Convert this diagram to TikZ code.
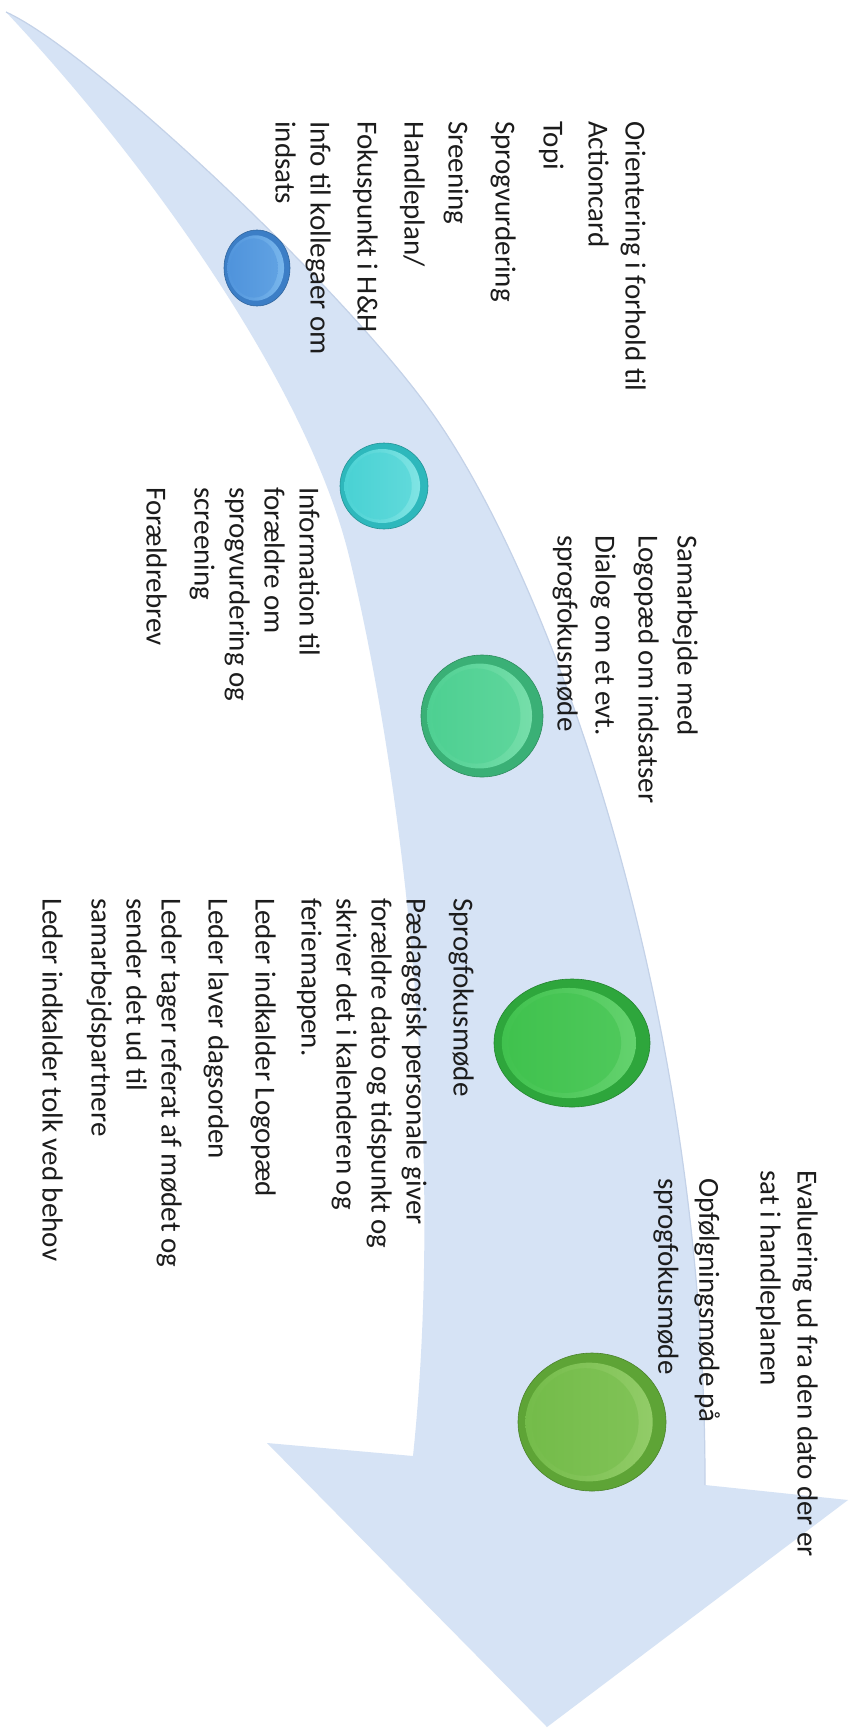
\documentclass[tikz,border=0pt]{standalone}
\usepackage{fontspec}
\setmainfont{Carlito}
\definecolor{arrowfill}{RGB}{214,227,245}
\definecolor{arrowedge}{RGB}{196,210,232}
\definecolor{txt}{RGB}{28,28,28}
\definecolor{bArim}{RGB}{60,126,198}\definecolor{bAin}{RGB}{80,148,220}\definecolor{bAhi}{RGB}{120,182,236}
\definecolor{bBrim}{RGB}{46,184,188}\definecolor{bBin}{RGB}{74,210,212}\definecolor{bBhi}{RGB}{128,228,228}
\definecolor{bCrim}{RGB}{58,176,118}\definecolor{bCin}{RGB}{78,208,146}\definecolor{bChi}{RGB}{118,222,170}
\definecolor{bDrim}{RGB}{46,166,60}\definecolor{bDin}{RGB}{64,194,78}\definecolor{bDhi}{RGB}{100,210,110}
\definecolor{bErim}{RGB}{94,164,54}\definecolor{bEin}{RGB}{116,188,74}\definecolor{bEhi}{RGB}{146,204,104}
\newcommand\mybutton[7]{%
  \fill[#5, draw=#5!80!black, line width=0.6pt] (#1,#2) ellipse ({#3pt} and {#4pt});
  \shade[left color=#6, right color=#7] ({#1-0.04*#3},#2) ellipse ({0.86*#3pt} and {0.86*#4pt});
  \shade[left color=#6, right color=#6!60!#7] ({#1-0.09*#3},#2) ellipse ({0.72*#3pt} and {0.78*#4pt});
}
\begin{document}
\begin{tikzpicture}[x=1pt,y=-1pt,
  lbl/.style={rotate=-90, anchor=north west, inner sep=0pt, align=left, text=txt,
    font=\fontsize{29}{35}\selectfont}]
\useasboundingbox (0,0) rectangle (857,1730);
\fill[white] (0,0) rectangle (857,1730);
% arrow body
\coordinate (tail) at (6,12);
\coordinate (umid) at (430,410);
\coordinate (rnotch) at (705,1485);
\coordinate (rwing) at (848,1500);
\coordinate (tip) at (547,1727);
\coordinate (lwing) at (267,1443);
\coordinate (lnotch) at (413,1456);
\coordinate (lmid) at (350,560);
\fill[arrowfill] (tail) .. controls (90,50) and (340,285) .. (umid)
  .. controls (547,572) and (706,1000) .. (rnotch)
  -- (rwing) -- (tip) -- (lwing) -- (lnotch)
  .. controls (445,1150) and (405,790) .. (lmid)
  .. controls (310,390) and (150,165) .. (tail) -- cycle;
\draw[arrowedge, line width=1.2pt] (tail) .. controls (90,50) and (340,285) .. (umid)
  .. controls (547,572) and (706,1000) .. (rnotch);
% buttons
\mybutton{257}{268}{33}{38}{bArim}{bAin}{bAhi}
\mybutton{384}{486}{44}{43}{bBrim}{bBin}{bBhi}
\mybutton{482}{716}{61}{61}{bCrim}{bCin}{bChi}
\mybutton{572}{1043}{78}{64}{bDrim}{bDin}{bDhi}
\mybutton{592}{1422}{74}{69}{bErim}{bEin}{bEhi}
% texts
\node[lbl] (t1) at (646,121) {Orientering i forhold til\\[2pt]Actioncard\\[10pt]Topi\\[13pt]Sprogvurdering\\[12pt]Sreening\\[9pt]Handleplan/\\[12pt]Fokuspunkt i H\&H\\[12pt]Info til kollegaer om\\indsats};
\node[lbl] (t2) at (320,487) {Information til\\forældre om\\sprogvurdering og\\screening\\[13pt]Forældrebrev};
\node[lbl] (t3) at (698,535) {Samarbejde med\\[4pt]Logopæd om indsatser\\[8pt]Dialog om et evt.\\[3pt]sprogfokusmøde};
\node[lbl] (t4) at (474,898) {Sprogfokusmøde\\[12pt]Pædagogisk personale giver\\forældre dato og tidspunkt og\\skriver det i kalenderen og\\feriemappen.\\[11pt]Leder indkalder Logopæd\\[12pt]Leder laver dagsorden\\[12pt]Leder tager referat af mødet og\\sender det ud til\\samarbejdspartnere\\[14pt]Leder indkalder tolk ved behov};
\node[lbl] (t5) at (720,1178) {Opfølgningsmøde på\\[6pt]sprogfokusmøde};
\node[lbl] (t6) at (818,1170) {Evaluering ud fra den dato der er\\[2pt]sat i handleplanen};
\end{tikzpicture}
\end{document}
